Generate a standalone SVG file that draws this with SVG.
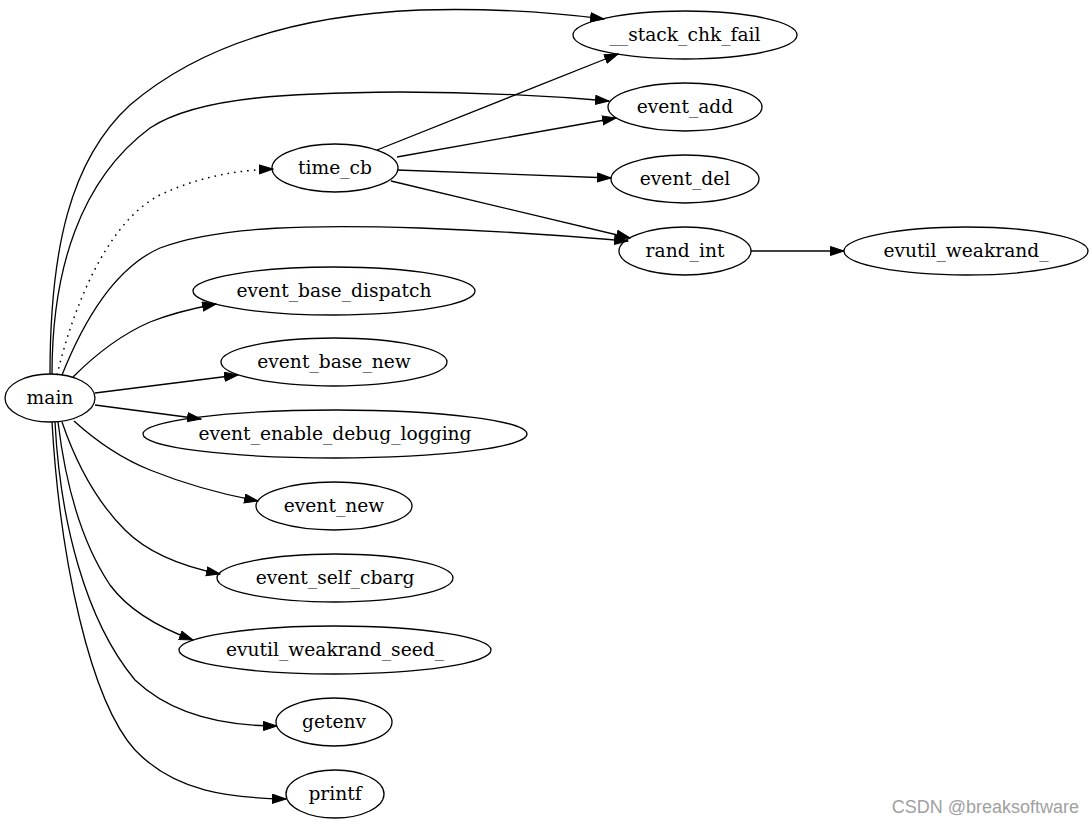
<svg xmlns="http://www.w3.org/2000/svg" width="1092" height="824" viewBox="0 0 1092 824">
<style>
  .node ellipse { fill: none; stroke: #000; stroke-width: 1.3; }
  .node text { font-family: "DejaVu Serif", "Liberation Serif", serif; font-size: 18.67px; text-anchor: middle; fill: #000; }
  .edges path { fill: none; stroke: #000; stroke-width: 1.3; marker-end: url(#arrow); }
  .edges path.dotted { stroke-dasharray: 1.6 5; stroke-width: 1.5; }
  .wm { font-family: "Liberation Sans", Arial, sans-serif; font-size: 18px; fill: #a0a0a0; text-anchor: end; }
</style>
<defs>
  <marker id="arrow" markerUnits="userSpaceOnUse" markerWidth="15" markerHeight="11" refX="14" refY="5" orient="auto">
    <path d="M0.5,0.5 L14,5 L0.5,9.5 Z" fill="#000" stroke="#000" stroke-width="1"/>
  </marker>
</defs>
<rect width="1092" height="824" fill="#fff"/>
<g id="edges" class="edges">
  <path d="M50,374 C50,250 70,160 130,105 C200,45 300,15 420,10 C490,8 550,12 604,19"/>
  <path d="M52,374 C52,270 80,180 150,128 C200,95 300,93 400,92 C480,92 550,96 609,101"/>
  <path class="dotted" d="M57,375 C75,300 110,220 160,195 C200,176 240,170 273,169"/>
  <path d="M62,375 C80,330 110,270 160,248 C220,225 320,225 420,228 C500,231 570,236 628,241"/>
  <path d="M73,377 C95,355 120,335 150,322 C170,314 195,308 216,304"/>
  <path d="M95,393 L238,375"/>
  <path d="M95,405 L201,419"/>
  <path d="M74,421 C95,440 120,458 150,470 C185,484 220,494 258,501"/>
  <path d="M62,422 C75,460 95,500 125,530 C150,555 185,567 220,574"/>
  <path d="M58,422 C65,480 80,540 110,585 C130,612 160,628 193,640"/>
  <path d="M55,422 C60,520 85,620 135,680 C175,718 230,726 277,726"/>
  <path d="M52,422 C60,560 90,700 135,750 C175,792 230,798 286,799"/>
  <path d="M377,150 L618,54"/>
  <path d="M397,157 L616,118"/>
  <path d="M397,170 L611,178"/>
  <path d="M391,181 L630,238"/>
  <path d="M751,251 L844,251"/>
</g>
<g id="main" class="node"><ellipse cx="50" cy="398" rx="45" ry="24"/><text x="50" y="404">main</text></g>
<g id="time_cb" class="node"><ellipse cx="335" cy="168" rx="63" ry="24"/><text x="335" y="174">time_cb</text></g>
<g id="stack_chk_fail" class="node"><ellipse cx="685" cy="35" rx="112" ry="24"/><text x="685" y="41">__stack_chk_fail</text></g>
<g id="event_add" class="node"><ellipse cx="685" cy="107" rx="77" ry="24"/><text x="685" y="113">event_add</text></g>
<g id="event_del" class="node"><ellipse cx="685" cy="179" rx="74" ry="24"/><text x="685" y="185">event_del</text></g>
<g id="rand_int" class="node"><ellipse cx="685" cy="251" rx="66" ry="24"/><text x="685" y="257">rand_int</text></g>
<g id="evutil_weakrand_" class="node"><ellipse cx="966" cy="251" rx="122" ry="24"/><text x="966" y="257">evutil_weakrand_</text></g>
<g id="event_base_dispatch" class="node"><ellipse cx="334" cy="291" rx="141" ry="24"/><text x="334" y="297">event_base_dispatch</text></g>
<g id="event_base_new" class="node"><ellipse cx="334" cy="362" rx="113" ry="24"/><text x="334" y="368">event_base_new</text></g>
<g id="event_enable_debug_logging" class="node"><ellipse cx="335" cy="434" rx="192" ry="24"/><text x="335" y="440">event_enable_debug_logging</text></g>
<g id="event_new" class="node"><ellipse cx="334" cy="506" rx="78" ry="24"/><text x="334" y="512">event_new</text></g>
<g id="event_self_cbarg" class="node"><ellipse cx="335" cy="578" rx="118" ry="24"/><text x="335" y="584">event_self_cbarg</text></g>
<g id="evutil_weakrand_seed_" class="node"><ellipse cx="335" cy="650" rx="156" ry="24"/><text x="335" y="656">evutil_weakrand_seed_</text></g>
<g id="getenv" class="node"><ellipse cx="334" cy="722" rx="58" ry="24"/><text x="334" y="728">getenv</text></g>
<g id="printf" class="node"><ellipse cx="335" cy="794" rx="49" ry="24"/><text x="335" y="800">printf</text></g>
<text class="wm" x="1079" y="813">CSDN @breaksoftware</text>
</svg>
